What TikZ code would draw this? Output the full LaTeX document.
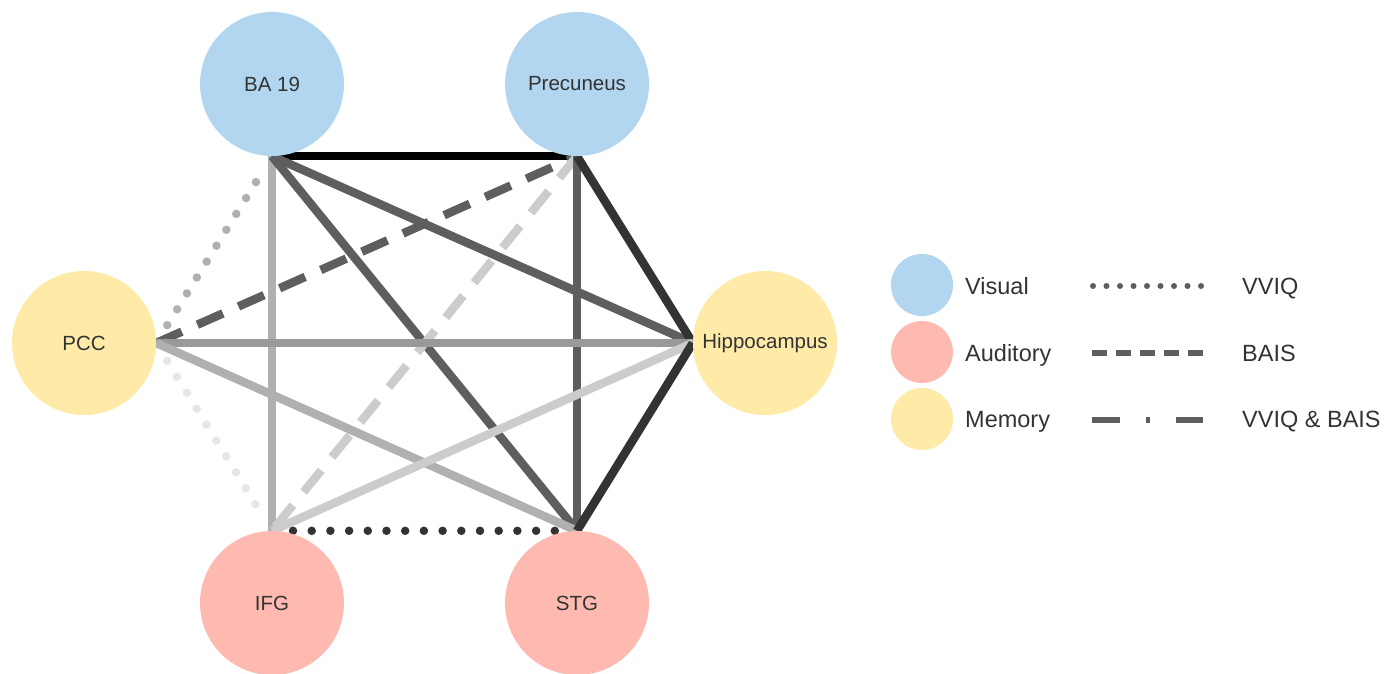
\documentclass[tikz,border=0pt]{standalone}
\usepackage{fontspec}
\setmainfont{Liberation Sans}
\usetikzlibrary{positioning,backgrounds}
\definecolor{ink}{HTML}{333333}
\definecolor{visfill}{HTML}{B3D6F0}
\definecolor{audfill}{HTML}{FEBAB0}
\definecolor{memfill}{HTML}{FFEAA8}
\definecolor{wblack}{HTML}{000000}
\definecolor{wdark}{HTML}{333333}
\definecolor{wmid}{HTML}{5E5E5E}
\definecolor{wgrey}{HTML}{999999}
\definecolor{wsoft}{HTML}{B0B0B0}
\definecolor{wlight}{HTML}{CCCCCC}
\definecolor{wpale}{HTML}{E6E6E6}

\begin{document}
\begin{tikzpicture}[
  x=1pt, y=-1pt,
  region/.style={circle, minimum size=144pt, inner sep=0pt, text=ink, font=\fontsize{20.5}{24}\selectfont},
  vis/.style={region, fill=visfill},
  aud/.style={region, fill=audfill},
  mem/.style={region, fill=memfill},
  key/.style={circle, minimum size=62pt, inner sep=0pt},
  keytxt/.style={anchor=base west, text=ink, font=\fontsize{23.5}{28}\selectfont, inner sep=0pt},
  link/.style={line width=8.5pt},
  dotlink/.style={link, line cap=round, dash pattern=on 0pt off 18.7pt, shorten <=21pt, shorten >=21pt},
  dashlink/.style={link, dash pattern=on 28pt off 17pt},
  keyline/.style={line width=6pt, draw=wmid},
]
\useasboundingbox (0,0) rectangle (1392,673);

% ---------- regions ----------
\node[vis] (BA) at (272,84)  {BA 19};
\node[vis] (PR) at (577,84)  {Precuneus};
\node[mem] (PC) at (84,343)  {PCC};
\node[mem] (HI) at (765,343) {Hippocampus};
\node[aud] (IF) at (272,603) {IFG};
\node[aud] (ST) at (577,603) {STG};

% ---------- connections (behind the circles) ----------
\begin{scope}[on background layer]
  \draw[link, draw=wblack] (BA.south) -- (PR.south);
  \draw[link, draw=wsoft]  (BA.south) -- (IF.north);
  \draw[link, draw=wmid]   (BA.south) -- (ST.north);
  \draw[link, draw=wmid]   (BA.south) -- (HI.west);
  \draw[dotlink, draw=wsoft] (PC.east) -- (BA.south);
  \draw[dashlink, draw=wmid] (PC.east) -- (PR.south);
  \draw[dashlink, draw=wlight] (PR.south) -- (IF.north);
  \draw[link, draw=wmid]   (PR.south) -- (ST.north);
  \draw[link, draw=wdark]  (PR.south) -- (HI.west);
  \draw[link, draw=wgrey]  (PC.east) -- (HI.west);
  \draw[link, draw=wsoft]  (PC.east) -- (ST.north);
  \draw[dotlink, draw=wpale] (PC.east) -- (IF.north);
  \draw[link, draw=wlight] (HI.west) -- (IF.north);
  \draw[link, draw=wdark]  (HI.west) -- (ST.north);
  \draw[dotlink, draw=wdark] (IF.north) -- (ST.north);
\end{scope}

% ---------- legend ----------
\node[key, fill=visfill] (KV) at (922,285) {};
\node[key, fill=audfill] (KA) at (922,352) {};
\node[key, fill=memfill] (KM) at (922,419) {};
\node[keytxt] (TV) at (965,294) {Visual};
\node[keytxt] (TA) at (965,361) {Auditory};
\node[keytxt] (TM) at (965,427) {Memory};

\coordinate (LV0) at (1093,286); \coordinate (LV1) at (1203,286);
\coordinate (LA0) at (1092,353); \coordinate (LA1) at (1203,353);
\coordinate (LM0) at (1092,420); \coordinate (LM1) at (1203,420);
\draw[keyline, line cap=round, dash pattern=on 0pt off 13.5pt] (LV0) -- (LV1);
\draw[keyline, dash pattern=on 15pt off 9pt] (LA0) -- (LA1);
\draw[keyline, dash pattern=on 28pt off 26pt on 4pt off 26pt] (LM0) -- (LM1);

\node[keytxt] (SV) at (1242,294) {VVIQ};
\node[keytxt] (SA) at (1242,361) {BAIS};
\node[keytxt] (SM) at (1242,427) {VVIQ \& BAIS};
\end{tikzpicture}
\end{document}
